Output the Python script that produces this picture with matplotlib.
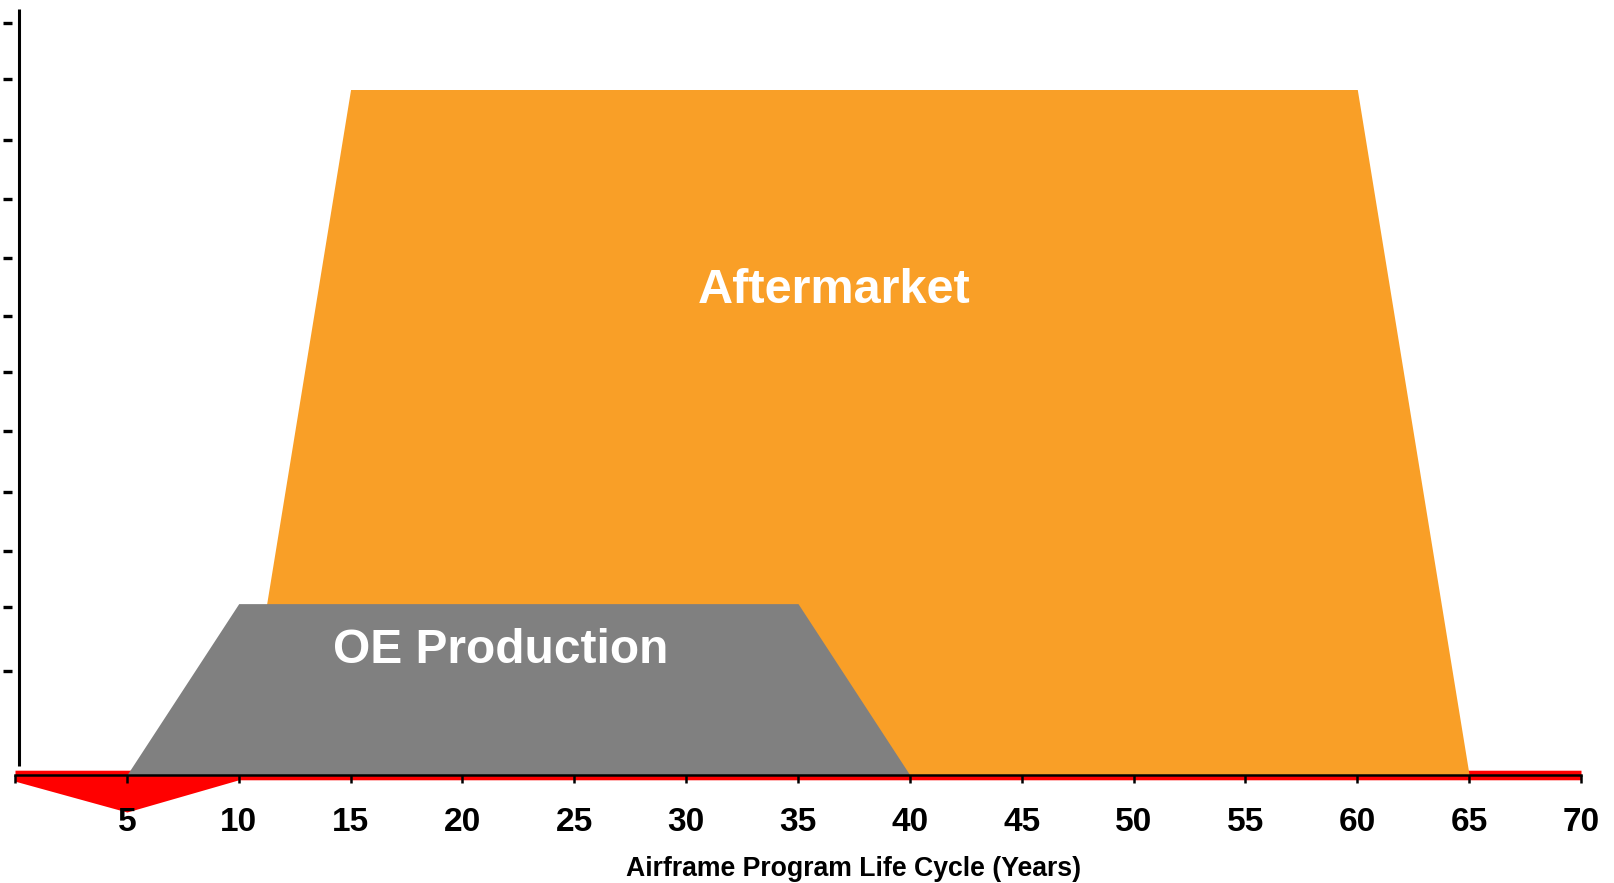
import matplotlib
matplotlib.use("Agg")
import matplotlib.pyplot as plt

plt.rcParams['font.family'] = ['Liberation Sans', 'DejaVu Sans']

# ---- data ----
years_ticks = [0, 5, 10, 15, 20, 25, 30, 35, 40, 45, 50, 55, 60, 65, 70]
tick_labels = ['', '5', '10', '15', '20', '25', '30', '35', '40', '45', '50', '55', '60', '65', '70']

aftermarket_x = [10, 15, 60, 65]
aftermarket_y = [0, 100, 100, 0]

oe_x = [5, 10, 35, 40]
oe_y = [0, 25, 25, 0]

invest_x = [0, 5, 10, 70]
invest_lower = [-0.9, -5.4, -0.7, -0.7]
invest_upper = [0.7, 0.7, 0.7, 0.7]

ytick_vals = [109.7, 101.5, 92.6, 84.0, 75.4, 67.0, 58.8, 50.2, 41.3, 32.7, 24.5, 15.2]

xlabel = "Airframe Program Life Cycle (Years)"

# ---- figure ----
W, H = 1614, 883
fig = plt.figure(figsize=(W / 100, H / 100), dpi=100)
ppu = 6.855
y0px = 775
ymin, ymax = -6, 112
bot_px = y0px - ymin * ppu
top_px = y0px - ymax * ppu
ax = fig.add_axes([15 / W, (H - bot_px) / H, 1566 / W, (bot_px - top_px) / H])
ax.set_xlim(0, 70)
ax.set_ylim(ymin, ymax)

ax.fill_between(invest_x, invest_lower, invest_upper, color='#FF0000', lw=0, zorder=1)
ax.fill_between(aftermarket_x, aftermarket_y, 0, color='#F99F27', lw=0, zorder=2)
ax.fill_between(oe_x, oe_y, 0, color='#808080', lw=0, zorder=3)

ax.text(36.6, 68.9, "Aftermarket", color='white', fontsize=35, fontweight='bold',
        ha='center', va='baseline', zorder=5)
ax.text(21.7, 16.4, "OE Production", color='white', fontsize=34.5, fontweight='bold',
        ha='center', va='baseline', zorder=5)

# vertical axis line
ax.plot([0.19, 0.19], [1.3, 111.7], color='black', lw=2.2, clip_on=False,
        solid_capstyle='butt', zorder=6)

for s in ['top', 'right']:
    ax.spines[s].set_visible(False)
ax.spines['left'].set_visible(False)
ax.spines['left'].set_position(('outward', 2.5))
ax.spines['bottom'].set_position(('data', 0))
ax.spines['bottom'].set_linewidth(1.8)
ax.spines['bottom'].set_zorder(6)

ax.set_xticks(years_ticks)
ax.set_xticklabels(tick_labels, fontsize=24, fontweight='bold')
ax.tick_params(axis='x', direction='out', length=5.8, width=1.8, pad=17)

ax.set_yticks(ytick_vals)
ax.tick_params(axis='y', direction='out', length=6.5, width=2.4, labelleft=False)

ax.set_xlabel(xlabel, fontsize=19.2, fontweight='bold')
ax.xaxis.set_label_coords((854 - 15) / 1566, (bot_px - 869.5) / (bot_px - top_px))
ax.xaxis.label.set_va('center')

fig.savefig("out.png", dpi=100)
